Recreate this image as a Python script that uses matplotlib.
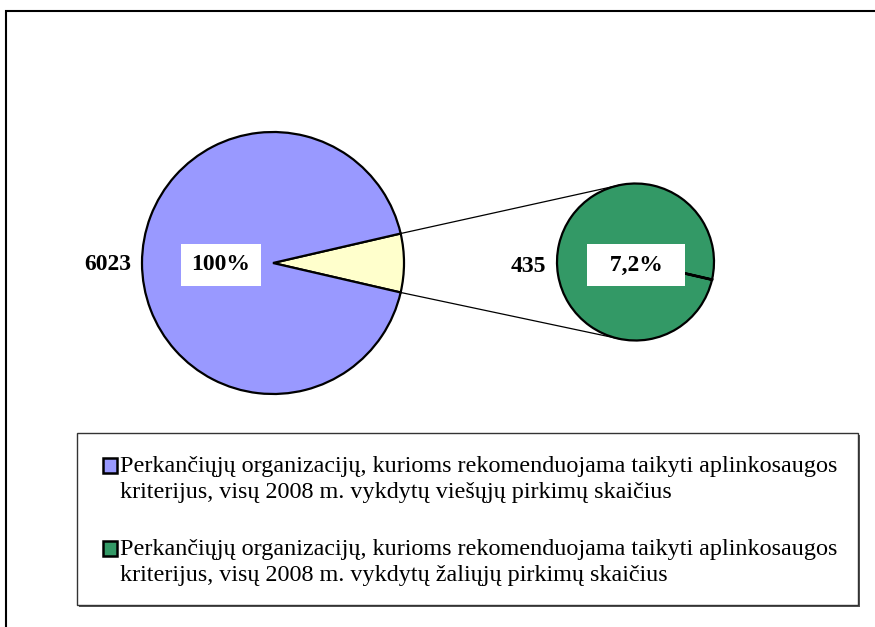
import numpy as np
import matplotlib
matplotlib.use("Agg")
from matplotlib import pyplot as plt
from matplotlib.patches import Rectangle

# Data
total = 6023
green = 435
pctLabels = ["100%", "7,2%"]
legendLabels = [
    "Perkančiųjų organizacijų, kurioms rekomenduojama taikyti aplinkosaugos\n"
    "kriterijus, visų 2008 m. vykdytų viešųjų pirkimų skaičius",
    "Perkančiųjų organizacijų, kurioms rekomenduojama taikyti aplinkosaugos\n"
    "kriterijus, visų 2008 m. vykdytų žaliųjų pirkimų skaičius",
]
colors = ["#9999FF", "#FFFFCC", "#339966"]

W, H = 875, 627
plt.rcParams['font.family'] = ['Liberation Serif', 'DejaVu Serif']

fig = plt.figure(figsize=(W / 100, H / 100), dpi=100)
ax = fig.add_axes([0, 0, 1, 1])

# Left pie: share of green procurement cut out as a wedge centred on 0 deg
frac = green / total
half = frac * 360 / 2
c1, r1 = (273, H - 263), 131
ax.pie([green, total - green], colors=[colors[1], colors[0]], startangle=-half,
       center=c1, radius=r1, frame=True,
       wedgeprops=dict(edgecolor="black", linewidth=1.6))

# Right pie: the green procurements, one full slice
c2, r2 = (635.5, H - 262), 78.5
ax.pie([green], colors=[colors[2]], startangle=-half, center=c2, radius=r2,
       frame=True, wedgeprops=dict(edgecolor="black", linewidth=1.6))
a = np.radians(-half)
ax.plot([c2[0], c2[0] + r2 * np.cos(a)], [c2[1], c2[1] + r2 * np.sin(a)],
        color="black", lw=2)

# Connector lines between the pies
for s in (1, -1):
    a1 = np.radians(s * half)
    a2 = np.radians(s * 102)
    ax.plot([c1[0] + r1 * np.cos(a1), c2[0] + r2 * np.cos(a2)],
            [c1[1] + r1 * np.sin(a1), c2[1] + r2 * np.sin(a2)],
            color="black", lw=0.9)

# Value labels
ax.text(108, H - 264, str(total), ha="center", va="center",
        fontsize=17, fontweight="bold")
ax.text(528, H - 267, str(green), ha="center", va="center",
        fontsize=17, fontweight="bold")
ax.text(221, H - 265, pctLabels[0], ha="center", va="center",
        fontsize=17, fontweight="bold",
        bbox=dict(boxstyle="square,pad=0.45", fc="white", ec="none"))
ax.text(636, H - 265, "  " + pctLabels[1] + "  ", ha="center", va="center",
        fontsize=17, fontweight="bold",
        bbox=dict(boxstyle="square,pad=0.45", fc="white", ec="none"))

# Outer frame
ax.add_patch(Rectangle((6, -10), 900, H - 11 + 10, fill=False,
                       ec="black", lw=1.5, clip_on=False))

# Legend box with shadow
ax.add_patch(Rectangle((79, H - 607), 781, 172, fc="#555555", ec="none"))
ax.add_patch(Rectangle((77, H - 605), 781, 172, fc="white", ec="#333333", lw=1))
for i, (lab, col) in enumerate(zip(legendLabels, [colors[0], colors[2]])):
    base = 472 + i * 83
    ax.add_patch(Rectangle((102.5, H - base - 0.5), 14, 15, fc=col, ec="black", lw=1.8))
    for k, line in enumerate(lab.split("\n")):
        ax.text(120, H - base - k * 26, line, ha="left", va="baseline",
                fontsize=17.4)

ax.set_xlim(0, W)
ax.set_ylim(0, H)
ax.set_aspect("auto")
ax.axis("off")

fig.savefig("out.png", dpi=100, facecolor="white")
